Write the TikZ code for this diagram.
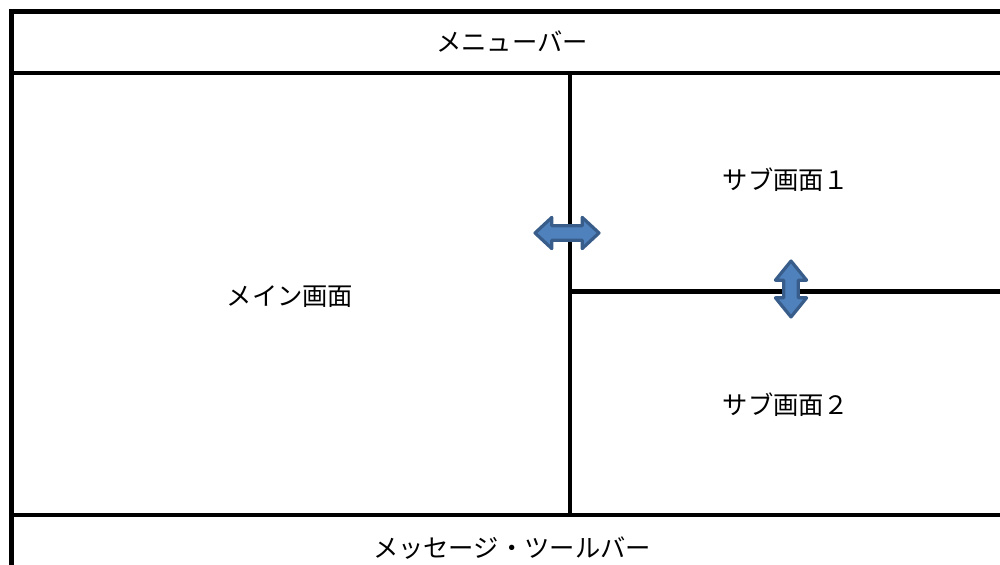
\documentclass[tikz,border=0pt]{standalone}
\usepackage{fontspec}
\newfontfamily\jpfont{Noto Sans CJK JP}
\definecolor{arrowfill}{HTML}{4F81BD}
\definecolor{arrowline}{HTML}{385D8A}
\begin{document}
\begin{tikzpicture}[
    frame/.style={line width=0.12cm,line cap=rect},
    label/.style={font=\jpfont\fontsize{18}{22}\selectfont},
    dblarrow/.style={fill=arrowfill,draw=arrowline,line width=0.08cm,line join=round}]
    \useasboundingbox (0,0) rectangle (25,14.125);

    % frame corners
    \coordinate (tl) at (0.2875,13.8375);
    \coordinate (tr) at (25,13.8375);
    \coordinate (bl) at (0.2875,0);
    \coordinate (ml) at (0.2875,12.3);
    \coordinate (mr) at (25,12.3);
    \coordinate (sl) at (0.2875,1.25);
    \coordinate (sr) at (25,1.25);
    \coordinate (vt) at (14.25,12.3);
    \coordinate (vb) at (14.25,1.25);
    \coordinate (hl) at (14.25,6.8375);
    \coordinate (hr) at (25,6.8375);

    \draw[frame] (tr) -- (tl) -- (bl);
    \draw[frame] (ml) -- (mr);
    \draw[frame] (sl) -- (sr);
    \draw[frame] (vt) -- (vb);
    \draw[frame] (hl) -- (hr);

    % labels
    \node[label] (menu) at (12.8,13.075) {メニューバー};
    \node[label] (main) at (7.25,6.7) {メイン画面};
    \node[label] (sub1) at (19.65,9.625) {サブ画面１};
    \node[label] (sub2) at (19.65,4.0) {サブ画面２};
    \node[label] (msg) at (12.8,0.425) {メッセージ・ツールバー};

    % resize arrows
    \coordinate (ha) at (14.175,8.3);
    \coordinate (va) at (19.775,6.9);
    \draw[dblarrow] (ha) ++(-0.8,0) -- ++(0.42,0.39) -- ++(0,-0.21) -- ++(0.76,0)
        -- ++(0,0.21) -- ++(0.42,-0.39) -- ++(-0.42,-0.39) -- ++(0,0.21)
        -- ++(-0.76,0) -- ++(0,-0.21) -- cycle;
    \draw[dblarrow] (va) ++(0,0.7) -- ++(0.39,-0.48) -- ++(-0.21,0) -- ++(0,-0.44)
        -- ++(0.21,0) -- ++(-0.39,-0.48) -- ++(-0.39,0.48) -- ++(0.21,0)
        -- ++(0,0.44) -- ++(-0.21,0) -- cycle;

\end{tikzpicture}
\end{document}
